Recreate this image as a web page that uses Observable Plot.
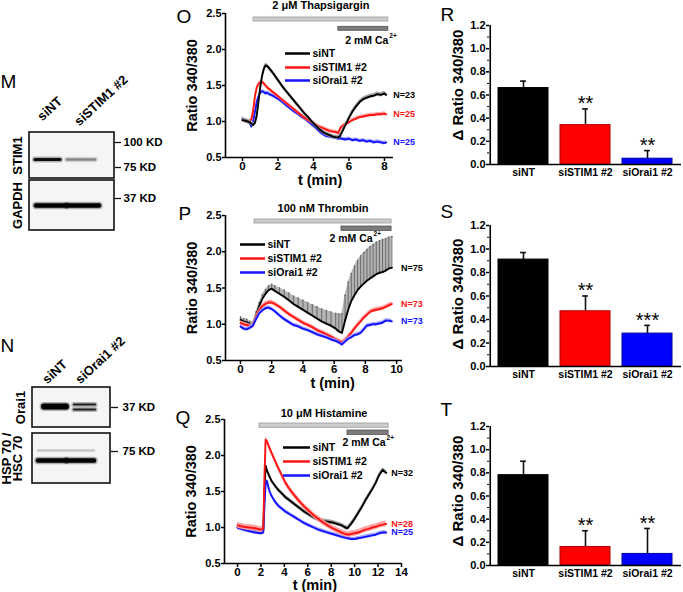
<!DOCTYPE html>
<html><head><meta charset="utf-8">
<script src="https://cdn.jsdelivr.net/npm/d3@7"></script>
<script src="https://cdn.jsdelivr.net/npm/@observablehq/plot@0.6"></script>
<style>
html,body{margin:0;padding:0;background:#fff;}
#fig{position:relative;width:683px;height:592px;overflow:hidden;background:#fff;}
#fig>div{position:absolute;}
</style></head><body><div id="fig"></div>
<script>
// ---------------- DATA ----------------
const seriesNames = ["siNT", "siSTIM1 #2", "siOrai1 #2"];
const panelLetters = ["M", "N", "O", "P", "Q", "R", "S", "T"];

// Western blots
const mLanes = ["siNT", "siSTIM1 #2"];
const mRows = ["STIM1", "GAPDH"];
const mBandIntensity = [[0.95, 0.55], [1.0, 1.0]];
const mMarkers = ["100 KD", "75 KD", "37 KD"];
const nLanes = ["siNT", "siOrai1 #2"];
const nRows = ["Orai1", "HSP 70 /\nHSC 70"];
const nBandIntensity = [[1.0, 0.9], [1.0, 1.0]];
const nMarkers = ["37 KD", "75 KD"];

// Panel O: 2 uM Thapsigargin
const oTimes = [0,0.2,0.4,0.5,0.6,0.7,0.8,0.9,1.0,1.1,1.2,1.3,1.4,1.5,1.7,1.9,2.1,2.3,2.5,2.7,2.9,3.1,3.3,3.5,3.7,3.9,4.1,4.3,4.5,4.7,4.9,5.1,5.3,5.4,5.5,5.6,5.8,6.0,6.2,6.4,6.6,6.8,7.0,7.2,7.4,7.6,7.8,8.0,8.1];
const oSiNT = [1.02,1.01,0.99,0.97,0.95,0.98,1.08,1.28,1.48,1.63,1.73,1.78,1.77,1.74,1.68,1.61,1.54,1.47,1.41,1.35,1.29,1.23,1.17,1.11,1.06,1.0,0.95,0.9,0.86,0.83,0.81,0.79,0.78,0.78,0.8,0.85,0.95,1.05,1.14,1.21,1.27,1.31,1.33,1.35,1.36,1.38,1.37,1.39,1.37];
const oSiSTIM1 = [1.02,1.0,1.0,1.03,1.15,1.35,1.47,1.52,1.54,1.55,1.53,1.5,1.47,1.45,1.41,1.37,1.33,1.29,1.25,1.21,1.17,1.13,1.09,1.05,1.02,0.99,0.96,0.93,0.91,0.89,0.87,0.86,0.85,0.84,0.9,0.93,0.96,0.99,1.02,1.04,1.06,1.07,1.08,1.09,1.09,1.1,1.1,1.11,1.1];
const oSiOrai1 = [1.04,1.0,0.98,0.93,1.0,1.13,1.27,1.35,1.4,1.42,1.41,1.39,1.4,1.38,1.36,1.33,1.3,1.26,1.22,1.18,1.14,1.11,1.07,1.04,1.0,0.96,0.92,0.87,0.83,0.8,0.79,0.78,0.77,0.76,0.77,0.76,0.75,0.76,0.74,0.75,0.73,0.74,0.72,0.73,0.71,0.72,0.71,0.7,0.71];
const oSem = [0.03, 0.025, 0.025];
const oN = [23, 25, 25];
const oStimLabels = ["2 μM Thapsigargin", "2 mM Ca", "2+"];
const oStimStart = [0.62, 5.4];
const oStimEnd = [8.22, 8.22];

// Panel P: 100 nM Thrombin
const pTimes = [0,0.2,0.4,0.6,0.8,1.0,1.2,1.4,1.6,1.8,2.0,2.2,2.5,2.8,3.1,3.4,3.7,4.0,4.3,4.6,4.9,5.2,5.5,5.8,6.1,6.3,6.5,6.7,6.9,7.1,7.3,7.5,7.7,7.9,8.1,8.3,8.5,8.7,8.9,9.1,9.3,9.5,9.7];
const pSiNT = [1.06,1.04,1.03,1.0,0.99,1.12,1.25,1.35,1.42,1.47,1.49,1.46,1.42,1.38,1.33,1.28,1.24,1.2,1.16,1.12,1.08,1.04,1.01,0.98,0.94,0.9,0.88,1.05,1.2,1.32,1.4,1.47,1.52,1.56,1.6,1.63,1.66,1.69,1.71,1.72,1.74,1.77,1.78];
const pSiNTUpper = [1.1,1.08,1.07,1.04,1.03,1.17,1.3,1.41,1.48,1.53,1.55,1.53,1.5,1.47,1.43,1.39,1.36,1.33,1.3,1.27,1.24,1.21,1.19,1.17,1.15,1.14,1.14,1.4,1.58,1.7,1.8,1.88,1.94,1.99,2.03,2.07,2.1,2.13,2.15,2.17,2.18,2.2,2.21];
const pSiSTIM1 = [1.02,1.0,0.99,0.97,0.98,1.1,1.19,1.25,1.28,1.3,1.3,1.28,1.24,1.19,1.14,1.1,1.06,1.02,0.99,0.96,0.92,0.89,0.86,0.83,0.79,0.77,0.75,0.78,0.83,0.88,0.94,0.99,1.04,1.09,1.13,1.17,1.19,1.2,1.21,1.22,1.24,1.26,1.28];
const pSiOrai1 = [0.97,0.94,0.93,0.95,0.98,1.07,1.15,1.19,1.22,1.23,1.21,1.18,1.12,1.07,1.03,0.99,0.97,0.94,0.92,0.89,0.86,0.84,0.82,0.79,0.77,0.75,0.72,0.76,0.8,0.82,0.85,0.86,0.88,0.93,0.98,0.99,1.0,1.0,1.01,1.02,1.05,1.05,1.04];
const pSem = [0.02, 0.03, 0.025];
const pN = [75, 73, 73];
const pStimLabels = ["100 nM Thrombin", "2 mM Ca", "2+"];
const pStimStart = [0.9, 6.47];
const pStimEnd = [9.68, 9.68];

// Panel Q: 10 uM Histamine
const qTimes = [0,0.5,1.0,1.5,2.0,2.2,2.3,2.4,2.5,2.7,2.9,3.2,3.5,3.8,4.1,4.5,4.9,5.3,5.7,6.1,6.5,6.9,7.3,7.7,8.1,8.5,8.9,9.2,9.4,9.7,10.0,10.3,10.6,10.9,11.2,11.5,11.8,12.1,12.4,12.7];
const qSiNT = [1.0,0.98,0.97,0.96,0.95,0.96,1.5,1.86,1.8,1.72,1.65,1.58,1.52,1.47,1.42,1.37,1.32,1.27,1.22,1.18,1.14,1.11,1.09,1.08,1.07,1.05,1.03,1.0,0.99,1.05,1.12,1.2,1.28,1.37,1.45,1.53,1.62,1.73,1.8,1.76];
const qSiSTIM1 = [1.03,1.01,1.0,0.99,0.97,0.98,1.7,2.22,2.2,2.12,2.04,1.93,1.82,1.72,1.62,1.52,1.44,1.36,1.29,1.23,1.17,1.12,1.07,1.03,0.99,0.96,0.93,0.91,0.9,0.91,0.92,0.93,0.95,0.97,0.98,1.0,1.01,1.03,1.04,1.05];
const qSiOrai1 = [1.0,0.97,0.95,0.93,0.92,0.93,1.3,1.6,1.65,1.52,1.44,1.36,1.3,1.26,1.22,1.18,1.14,1.1,1.06,1.03,1.0,0.97,0.95,0.93,0.91,0.89,0.87,0.86,0.85,0.84,0.84,0.85,0.86,0.87,0.88,0.89,0.9,0.92,0.93,0.93];
const qSem = [0.03, 0.04, 0.025];
const qN = [32, 28, 25];
const qStimLabels = ["10 μM Histamine", "2 mM Ca", "2+"];
const qStimStart = [1.88, 9.39];
const qStimEnd = [12.9, 12.9];

// Bar panels
const barGroups = ["siNT", "siSTIM1 #2", "siOrai1 #2"];
const rMeans = [0.66, 0.34, 0.05];
const rErrs = [0.06, 0.14, 0.07];
const rStars = ["", "**", "**"];
const sMeans = [0.91, 0.47, 0.28];
const sErrs = [0.06, 0.13, 0.07];
const sStars = ["", "**", "***"];
const tMeans = [0.78, 0.16, 0.10];
const tErrs = [0.12, 0.14, 0.22];
const tStars = ["", "**", "**"];

// ---------------- STYLE ----------------
const FONT = '"Liberation Sans", Arial, Helvetica, sans-serif';
const lineColors = ["#000000", "#ff1414", "#1414ff"];
const semColors = ["#9a9a9a", "#ff9c9c", "#9c9cff"];
const barFills = ["#000000", "#ff0000", "#0000ff"];
const barStrokes = ["#000000", "#b00000", "#0000a0"];
const baseStyle = {fontFamily: FONT, fontWeight: "bold", fontSize: "11px", background: "transparent", overflow: "visible", color: "#000"};

function place(svg, left, top, width, height) {
  const d = document.createElement("div");
  d.style.left = left + "px"; d.style.top = top + "px";
  d.style.width = width + "px"; d.style.height = height + "px";
  d.appendChild(svg);
  document.getElementById("fig").appendChild(d);
}

// ---------------- TRACE PANELS ----------------
function tracePanel(c) {
  const fw = c.width - c.ml - c.mr, fh = c.height - c.mt - c.mb;
  const [x0, x1] = c.xDomain;
  const xAt = p => x0 + p * (x1 - x0) / fw;
  const yAt = p => 2.5 - p * 2 / fh;
  const rows = c.values.map((vals, s) => c.times.map((t, i) => ({t, v: vals[i], up: (c.upper && s === 0) ? c.upper[i] : null})));
  const marks = [];
  // stimulus bars
  marks.push(Plot.rect([0], {x1: c.stimStart[0], x2: c.stimEnd[0], y1: yAt(c.stimY[0][1]), y2: yAt(c.stimY[0][0]), fill: "#cdcdcd", stroke: "#9a9a9a", strokeWidth: 0.8}));
  marks.push(Plot.rect([0], {x1: c.stimStart[1], x2: c.stimEnd[1], y1: yAt(c.stimY[1][1]), y2: yAt(c.stimY[1][0]), fill: "#7c7c7c", stroke: "#555", strokeWidth: 0.8}));
  marks.push(Plot.text([c.stimLabels[0]], {x: (c.stimStart[0] + c.stimEnd[0]) / 2, y: yAt(c.titleY), text: d => d, fontSize: 11}));
  marks.push(Plot.text([c.stimLabels[1]], {x: c.stimEnd[1], y: yAt(c.caY), text: d => d, textAnchor: "end", dx: c.caDx, fontSize: 10.5}));
  marks.push(Plot.text([c.stimLabels[2]], {x: c.stimEnd[1], y: yAt(c.caY), text: d => d, textAnchor: "start", dx: c.caDx + 1, dy: -5, fontSize: 6.5}));
  // traces
  for (const s of c.order) {
    const r = rows[s];
    if (c.upper && s === 0) {
      marks.push(Plot.areaY(r, {x: "t", y1: d => d.v - c.sem[0], y2: "up", fill: "#b4b4b4"}));
      marks.push(Plot.ruleX(r, {x: "t", y1: "v", y2: "up", stroke: "#6a6a6a", strokeWidth: 1}));
      marks.push(Plot.dot(r, {x: "t", y: "up", r: 0.8, fill: "#6a6a6a"}));
    } else {
      marks.push(Plot.areaY(r, {x: "t", y1: d => d.v - c.sem[s], y2: d => d.v + c.sem[s], fill: semColors[s], fillOpacity: 0.9}));
    }
    marks.push(Plot.lineY(r, {x: "t", y: "v", stroke: lineColors[s], strokeWidth: 1.9}));
    const last = r[r.length - 1];
    marks.push(Plot.text([last], {x: "t", y: "v", text: () => "N=" + c.nValues[s], dx: c.nDx, textAnchor: "start", fill: lineColors[s], fontSize: 9}));
  }
  // legend
  seriesNames.forEach((name, s) => {
    marks.push(Plot.ruleY([0], {y: yAt(c.legY[s]), x1: xAt(c.legX[0]), x2: xAt(c.legX[1]), stroke: lineColors[s], strokeWidth: 2.5}));
    marks.push(Plot.text([name], {x: xAt(c.legX[2]), y: yAt(c.legY[s]), text: d => d, textAnchor: "start", fontSize: 10.5}));
  });
  // axes
  marks.push(Plot.ruleX([x0], {strokeWidth: 1.6}));
  marks.push(Plot.ruleY([0.5], {strokeWidth: 1.6}));
  marks.push(Plot.axisY({ticks: [0.5, 1, 1.5, 2, 2.5], tickFormat: ".1f", tickSize: 3, tickPadding: 1, strokeWidth: 1.5, fontSize: 11, label: null}));
  marks.push(Plot.axisX({ticks: c.xTicks, tickSize: 4, tickPadding: 0, strokeWidth: 1.5, fontSize: 11.5, label: null}));
  marks.push(Plot.text(["Ratio 340/380"], {frameAnchor: "left", textAnchor: "middle", rotate: -90, dx: -33, text: d => d, fontSize: 14.5}));
  marks.push(Plot.text(["t (min)"], {x: c.xLabelX, y: 0.5, dy: c.xLabelDy, text: d => d, fontSize: 14.5}));
  const svg = Plot.plot({
    width: c.width, height: c.height,
    marginLeft: c.ml, marginRight: c.mr, marginTop: c.mt, marginBottom: c.mb,
    x: {domain: c.xDomain, label: null},
    y: {domain: [0.5, 2.5], label: null},
    style: baseStyle,
    marks
  });
  place(svg, c.left, c.top, c.width, c.height);
}

tracePanel({left: 180, top: 0, width: 260, height: 190, ml: 45, mt: 13, mr: 47, mb: 33,
  xDomain: [-0.96, 8.51], xTicks: [0, 2, 4, 6, 8], times: oTimes, values: [oSiNT, oSiSTIM1, oSiOrai1],
  sem: oSem, nValues: oN, order: [2, 1, 0], nDx: 7,
  stimLabels: oStimLabels, stimStart: oStimStart, stimEnd: oStimEnd,
  stimY: [[4, 8], [13.3, 17.3]], titleY: -8, caY: 27, caDx: 0,
  legX: [60, 85, 87], legY: [40, 54, 67], xLabelX: 4.37, xLabelDy: 22.5});

tracePanel({left: 180, top: 190, width: 260, height: 205, ml: 45, mt: 25, mr: 38, mb: 35,
  xDomain: [-0.96, 10.38], xTicks: [0, 2, 4, 6, 8, 10], times: pTimes, values: [pSiNT, pSiSTIM1, pSiOrai1],
  upper: pSiNTUpper, sem: pSem, nValues: pN, order: [0, 1, 2], nDx: 9,
  stimLabels: pStimLabels, stimStart: pStimStart, stimEnd: pStimEnd,
  stimY: [[4, 8], [11, 15.5]], titleY: -7, caY: 23, caDx: -19,
  legX: [15, 40, 42], legY: [29, 43, 57], xLabelX: 5.9, xLabelDy: 23});

tracePanel({left: 180, top: 385, width: 260, height: 207, ml: 44, mt: 34, mr: 39, mb: 29,
  xDomain: [-1.11, 14], xTicks: [0, 2, 4, 6, 8, 10, 12, 14], times: qTimes, values: [qSiNT, qSiSTIM1, qSiOrai1],
  sem: qSem, nValues: qN, order: [0, 2, 1], nDx: 5,
  stimLabels: qStimLabels, stimStart: qStimStart, stimEnd: qStimEnd,
  stimY: [[4, 8.3], [11, 15.5]], titleY: -6, caY: 23, caDx: -3,
  legX: [59, 86, 88], legY: [28, 42, 56], xLabelX: 6.6, xLabelDy: 21.5});

// ---------------- BAR PANELS ----------------
function barPanel(c) {
  const fw = c.width - c.ml - c.mr;
  const pi = 0.2, po = 0.13;
  const step = fw / (3 - pi + 2 * po), bw = step * (1 - pi);
  const rows = barGroups.map((g, i) => ({g, m: c.means[i], e: c.errs[i], s: c.stars[i], fill: barFills[i], stroke: barStrokes[i]}));
  const svg = Plot.plot({
    width: c.width, height: c.height,
    marginLeft: c.ml, marginRight: c.mr, marginTop: c.mt, marginBottom: c.mb,
    x: {domain: barGroups, paddingInner: pi, paddingOuter: po, label: null},
    y: {domain: [0, 1.2], label: null},
    color: {type: "identity"},
    style: baseStyle,
    marks: [
      Plot.ruleX(rows, {x: "g", y1: "m", y2: d => d.m + d.e, stroke: "#111", strokeWidth: 1.6}),
      Plot.tickY(rows, {x: "g", y: d => d.m + d.e, stroke: "#111", strokeWidth: 1.6, insetLeft: bw / 2 - 3, insetRight: bw / 2 - 3}),
      Plot.barY(rows, {x: "g", y: "m", fill: "fill", stroke: "stroke", strokeWidth: 1}),
      Plot.text(rows.filter(d => d.s), {x: "g", y: d => d.m + d.e, text: "s", dy: -5, fontSize: 20, fontWeight: "normal"}),
      Plot.ruleY([0], {strokeWidth: 1.6}),
      Plot.ruleX([barGroups[0]], {x: d => d, dx: -(po * step + bw / 2), strokeWidth: 1.6}),
      Plot.axisY({ticks: [0, 0.2, 0.4, 0.6, 0.8, 1.0, 1.2], tickFormat: ".1f", tickSize: 3, tickPadding: 1, strokeWidth: 1.5, fontSize: 11, label: null}),
      Plot.axisY({ticks: [0.1, 0.3, 0.5, 0.7, 0.9, 1.1], tickSize: 2, tickFormat: () => "", strokeWidth: 1, label: null}),
      Plot.axisX({tickSize: 0, tickPadding: 4, fontSize: 10.5, label: null}),
      Plot.text(["Δ Ratio 340/380"], {frameAnchor: "left", textAnchor: "middle", rotate: -90, dx: -31, dy: c.labelDy, text: d => d, fontSize: 15})
    ]
  });
  place(svg, c.left, c.top, c.width, c.height);
}

barPanel({left: 440, top: 0, width: 243, height: 190, ml: 49, mr: 2, mt: 25, mb: 26, means: rMeans, errs: rErrs, stars: rStars, labelDy: -10});
barPanel({left: 440, top: 190, width: 243, height: 200, ml: 49, mr: 2, mt: 35, mb: 24, means: sMeans, errs: sErrs, stars: sStars, labelDy: -2});
barPanel({left: 440, top: 385, width: 243, height: 207, ml: 49, mr: 2, mt: 41, mb: 27, means: tMeans, errs: tErrs, stars: tStars, labelDy: -5});

// ---------------- BLOTS + PANEL LETTERS (pixel-space overlay) ----------------
(function overlay() {
  const marks = [];
  const letterPos = [[0, 87], [0, 351], [176, 22], [178, 219], [175, 423], [440, 20], [440, 217], [440, 415]];
  marks.push(Plot.text(panelLetters, {x: (d, i) => letterPos[i][0], y: (d, i) => letterPos[i][1], text: d => d, textAnchor: "start", lineAnchor: "bottom", fontSize: 19, fontWeight: "normal"}));

  function blot(g) {
    marks.push(Plot.rect(g.rows, {x1: g.boxX[0], x2: g.boxX[1], y1: (d, i) => g.rowY[i][0], y2: (d, i) => g.rowY[i][1], fill: "#f5f5f5", stroke: "#111", strokeWidth: 1.6}));
    if (g.faint) marks.push(Plot.ruleY([0], {y: g.faint[0], x1: g.faint[1], x2: g.faint[2], stroke: "#c8c8c8", strokeWidth: 2.5, strokeLinecap: "round"}));
    const bands = [];
    g.rows.forEach((r, ri) => g.lanes.forEach((l, li) => {
      const c = d3.interpolateGreys(g.intensity[ri][li]);
      g.bandYs[ri][li].forEach(y => bands.push({x1: g.laneX[ri][li][0], x2: g.laneX[ri][li][1], y, w: g.bandW[ri][li], c}));
    }));
    const widths = [...new Set(bands.map(b => b.w))];
    widths.forEach(w => {
      const bb = bands.filter(b => b.w === w);
      marks.push(Plot.ruleY(bb, {y: "y", x1: "x1", x2: "x2", stroke: "c", strokeWidth: w + 3, strokeOpacity: 0.3, strokeLinecap: "round"}));
      marks.push(Plot.ruleY(bb, {y: "y", x1: "x1", x2: "x2", stroke: "c", strokeWidth: w, strokeLinecap: "round"}));
    });
    marks.push(Plot.ruleY(g.markers, {y: (d, i) => g.markerY[i], x1: g.markerX[0], x2: g.markerX[1], stroke: "#111", strokeWidth: 1.3}));
    marks.push(Plot.text(g.markers, {x: g.markerX[2], y: (d, i) => g.markerY[i], text: d => d, textAnchor: "start", fontSize: 11.5}));
    marks.push(Plot.text(g.rows, {x: (d, i) => g.rowLabelX[i], y: (d, i) => (g.rowY[i][0] + g.rowY[i][1]) / 2, text: d => d, rotate: -90, fontSize: 13, lineHeight: 0.85}));
    marks.push(Plot.text(g.lanes, {x: (d, i) => g.colPos[i][0], y: (d, i) => g.colPos[i][1], text: d => d, rotate: -43, textAnchor: "start", fontSize: 13}));
  }

  blot({rows: mRows, lanes: mLanes, intensity: mBandIntensity, markers: mMarkers,
    boxX: [29, 114], rowY: [[132, 178], [180, 230]],
    laneX: [[[35, 60], [67, 95]], [[36, 66], [67, 99]]],
    bandYs: [[[159], [159]], [[205], [205]]], bandW: [[3, 2.5], [4.5, 4.5]],
    markerY: [142, 167, 198], markerX: [115, 121, 123], rowLabelX: [18, 18],
    colPos: [[39, 118], [76, 123]]});

  blot({rows: nRows, lanes: nLanes, intensity: nBandIntensity, markers: nMarkers,
    boxX: [32, 110], rowY: [[387, 427], [433, 483]],
    laneX: [[[44, 66], [74, 95]], [[38, 66], [67, 94]]],
    bandYs: [[[406], [404, 409]], [[460], [460]]], bandW: [[6, 2.2], [4.5, 4.5]],
    faint: [450, 38, 94],
    markerY: [407, 451], markerX: [111, 118, 122], rowLabelX: [21, 12.5],
    colPos: [[44, 381], [77, 381]]});

  const svg = Plot.plot({
    width: 683, height: 592, margin: 0,
    x: {type: "linear", domain: [0, 683], range: [0, 683], axis: null},
    y: {type: "linear", domain: [0, 592], range: [0, 592], axis: null},
    color: {type: "identity"},
    style: baseStyle,
    marks
  });
  const d = document.createElement("div");
  d.style.left = "0px"; d.style.top = "0px"; d.style.width = "683px"; d.style.height = "592px";
  d.appendChild(svg);
  const fig = document.getElementById("fig");
  fig.insertBefore(d, fig.firstChild);
})();
</script></body></html>
